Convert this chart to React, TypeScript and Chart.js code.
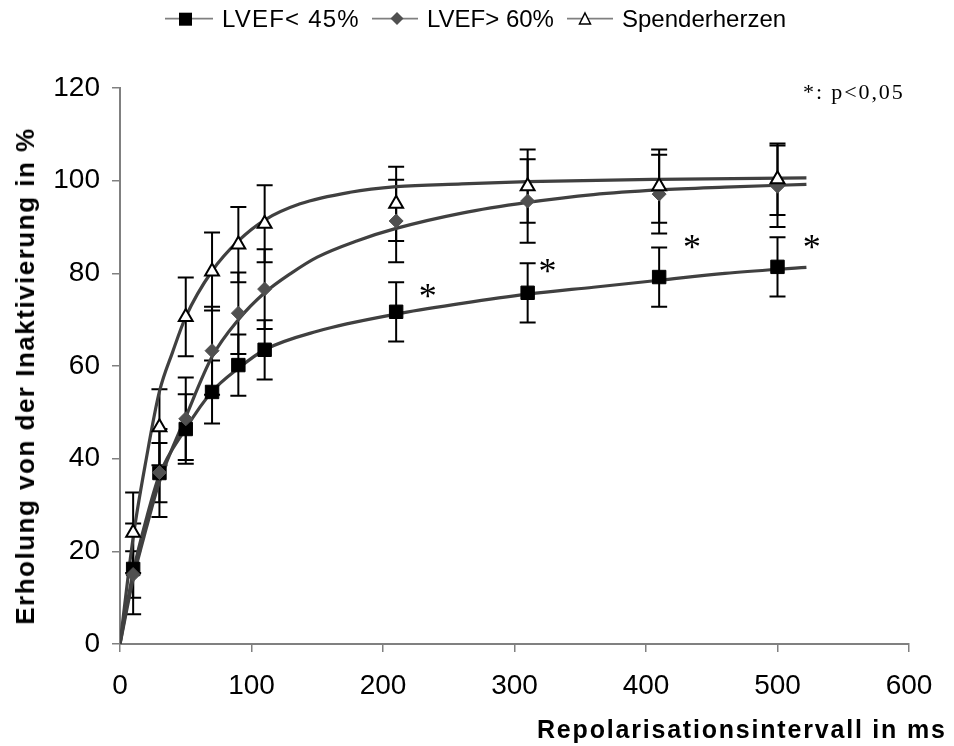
import React, { useEffect, useRef } from 'react';
import { Chart, registerables } from 'chart.js';

Chart.register(...registerables);

// ---- data ----
const intervals = [10, 30, 50, 70, 90, 110, 210, 310, 410, 500];

const lvefLowMean = [16.2, 36.9, 46.4, 54.4, 60.2, 63.5, 71.7, 75.8, 79.2, 81.4];
const lvefLowErr = [9.8, 9.5, 7.5, 6.8, 6.6, 6.4, 6.4, 6.4, 6.4, 6.4];

const lvefHighMean = [15, 37, 48.6, 63.3, 71.4, 76.6, 91.3, 95.6, 97.1, 98.8];
const lvefHighErr = [5, 6.4, 8.9, 9.5, 8.8, 8.6, 8.9, 9, 8.5, 8.8];

const donorMean = [24, 46.8, 70.6, 80.4, 86.2, 90.7, 95, 98.8, 98.8, 100.3];
const donorErr = [8.7, 8.2, 8.5, 8.4, 8.1, 8.3, 8, 7.9, 7.9, 7.7];

// fitted curves
const fitLowX = [0, 10, 20, 30, 50, 70, 90, 110, 150, 210, 260, 310, 360, 410, 460, 522];
const fitLowY = [0, 15.5, 27, 36.5, 46.5, 54.5, 59.5, 63.5, 67.5, 71.2, 73.5, 75.5, 77, 78.5, 80, 81.3];

const fitHighX = [0, 10, 20, 30, 50, 70, 90, 110, 130, 150, 180, 210, 260, 310, 360, 410, 460, 522];
const fitHighY = [0, 14, 25, 35, 49, 62, 70, 75.8, 80, 83.5, 87, 89.7, 93, 95.3, 97, 98, 98.6, 99.2];

const fitDonorX = [0, 10, 20, 30, 40, 50, 70, 90, 110, 137, 175, 210, 260, 310, 410, 522];
const fitDonorY = [0, 23, 40, 54.5, 63, 70.6, 80.5, 87, 91.5, 95, 97.5, 98.7, 99.3, 99.8, 100.3, 100.6];

// significance markers
const starX = [234, 325, 435, 526];
const starY = [76.8, 82.2, 87.4, 87.4];

const seriesLabels = ['LVEF< 45%', 'LVEF> 60%', 'Spenderherzen'];

const xMin = 0, xMax = 600, xStep = 100;
const yMin = 0, yMax = 120, yStep = 20;

const pts = (xs: number[], ys: number[]) => xs.map((x, i) => ({ x, y: ys[i] }));

const errorSets = [
  { mean: lvefLowMean, err: lvefLowErr },
  { mean: lvefHighMean, err: lvefHighErr },
  { mean: donorMean, err: donorErr },
];

const overlayPlugin = {
  id: 'overlay',
  beforeDatasetsDraw(chart: any) {
    const { ctx, scales } = chart;
    const x = scales.x, y = scales.y;
    ctx.save();
    ctx.strokeStyle = '#000';
    ctx.lineWidth = 2;
    errorSets.forEach((s) => {
      intervals.forEach((iv, j) => {
        const px = x.getPixelForValue(iv);
        const top = y.getPixelForValue(s.mean[j] + s.err[j]);
        const bot = y.getPixelForValue(s.mean[j] - s.err[j]);
        ctx.beginPath();
        ctx.moveTo(px, top);
        ctx.lineTo(px, bot);
        ctx.moveTo(px - 8, top);
        ctx.lineTo(px + 8, top);
        ctx.moveTo(px - 8, bot);
        ctx.lineTo(px + 8, bot);
        ctx.stroke();
      });
    });
    ctx.restore();
  },
  afterDatasetsDraw(chart: any) {
    const { ctx, scales } = chart;
    const x = scales.x, y = scales.y;
    ctx.save();
    ctx.fillStyle = '#000';
    ctx.font = "36px 'Liberation Serif', 'Times New Roman', serif";
    ctx.textAlign = 'center';
    ctx.textBaseline = 'alphabetic';
    starX.forEach((sx, i) => {
      ctx.fillText('*', x.getPixelForValue(sx), y.getPixelForValue(starY[i]) + 20);
    });
    ctx.restore();
  },
};

const sans = "'Liberation Sans', Arial, sans-serif";

export default function App() {
  const ref = useRef<HTMLCanvasElement>(null);

  useEffect(() => {
    const curve = (xs: number[], ys: number[], order: number) => ({
      type: 'line' as const,
      label: '',
      data: pts(xs, ys),
      showLine: true,
      borderColor: '#404040',
      borderWidth: 3.2,
      pointRadius: 0,
      cubicInterpolationMode: 'monotone' as const,
      order,
    });
    const chart = new Chart(ref.current!, {
      type: 'scatter',
      data: {
        datasets: [
          {
            label: seriesLabels[2],
            data: pts(intervals, donorMean),
            pointStyle: 'triangle',
            pointRadius: 8,
            pointBackgroundColor: '#ffffff',
            pointBorderColor: '#000000',
            pointBorderWidth: 2,
            showLine: false,
            order: 0,
          },
          {
            label: seriesLabels[1],
            data: pts(intervals, lvefHighMean),
            pointStyle: 'rectRot',
            pointRadius: 7,
            pointBackgroundColor: '#505050',
            pointBorderColor: '#505050',
            pointBorderWidth: 1,
            showLine: false,
            order: 1,
          },
          {
            label: seriesLabels[0],
            data: pts(intervals, lvefLowMean),
            pointStyle: 'rect',
            pointRadius: 9.5,
            pointBackgroundColor: '#000000',
            pointBorderColor: '#000000',
            pointBorderWidth: 1,
            showLine: false,
            order: 2,
          },
          curve(fitLowX, fitLowY, 3),
          curve(fitHighX, fitHighY, 4),
          curve(fitDonorX, fitDonorY, 5),
        ] as any,
      },
      options: {
        responsive: false,
        animation: false,
        devicePixelRatio: 1,
        layout: { padding: { top: 88, right: 45, bottom: 0, left: 0 } },
        plugins: {
          legend: { display: false },
          tooltip: { enabled: false },
          title: { display: false },
        },
        scales: {
          x: {
            type: 'linear',
            min: xMin,
            max: xMax,
            afterFit: (s: any) => { s.height = 102; },
            ticks: {
              stepSize: xStep,
              color: '#000',
              font: { family: sans, size: 28 },
              padding: 17,
              maxRotation: 0,
            },
            grid: { drawOnChartArea: false, drawTicks: true, tickLength: 8, color: '#808080', lineWidth: 1.5 },
            border: { color: '#808080', width: 2 },
          },
          y: {
            type: 'linear',
            min: yMin,
            max: yMax,
            afterFit: (s: any) => { s.width = 120; },
            ticks: {
              stepSize: yStep,
              color: '#000',
              font: { family: sans, size: 28 },
              padding: 12,
            },
            grid: { drawOnChartArea: false, drawTicks: true, tickLength: 8, color: '#808080', lineWidth: 1.5 },
            border: { color: '#808080', width: 2 },
          },
        },
      },
      plugins: [overlayPlugin],
    });
    return () => chart.destroy();
  }, []);

  const legendText: React.CSSProperties = {
    position: 'absolute',
    top: 6.7,
    fontFamily: sans,
    fontSize: 24,
    lineHeight: '24px',
    color: '#000',
    whiteSpace: 'nowrap',
  };

  return (
    <div style={{ position: 'absolute', left: 0, top: 0, width: 954, height: 746, background: '#fff', overflow: 'hidden' }}>
      <canvas ref={ref} width={954} height={746} style={{ position: 'absolute', left: 0, top: 0, width: 954, height: 746 }} />
      <svg width={954} height={40} style={{ position: 'absolute', left: 0, top: 0 }}>
        <line x1={165} y1={18.7} x2={213} y2={18.7} stroke="#808080" strokeWidth={1.8} />
        <rect x={179} y={12.7} width={13} height={13} fill="#000" />
        <line x1={372} y1={18.7} x2={418} y2={18.7} stroke="#808080" strokeWidth={1.8} />
        <polygon points="397,12 403.5,18.5 397,25 390.5,18.5" fill="#505050" />
        <line x1={567} y1={18.7} x2={613} y2={18.7} stroke="#808080" strokeWidth={1.8} />
        <polygon points="585,13 590.5,24 579.5,24" fill="#fff" stroke="#000" strokeWidth={1.5} />
      </svg>
      <div style={{ ...legendText, left: 222, letterSpacing: 1.2 }}>{seriesLabels[0]}</div>
      <div style={{ ...legendText, left: 427 }}>{seriesLabels[1]}</div>
      <div style={{ ...legendText, left: 622 }}>{seriesLabels[2]}</div>

      <div
        style={{
          position: 'absolute',
          left: 803,
          top: 80.5,
          fontFamily: "'Liberation Serif', 'Times New Roman', serif",
          fontSize: 22,
          lineHeight: '22px',
          letterSpacing: 1.9,
          whiteSpace: 'nowrap',
          color: '#000',
        }}
      >
        *: p&lt;0,05
      </div>

      <div
        style={{
          position: 'absolute',
          left: 25,
          top: 376,
          transform: 'translate(-50%, -50%) rotate(-90deg)',
          fontFamily: sans,
          fontWeight: 'bold',
          fontSize: 26,
          lineHeight: '26px',
          letterSpacing: 1.5,
          whiteSpace: 'nowrap',
          color: '#000',
        }}
      >
        Erholung von der Inaktivierung in %
      </div>

      <div
        style={{
          position: 'absolute',
          left: 537,
          top: 717,
          fontFamily: sans,
          fontWeight: 'bold',
          fontSize: 25,
          lineHeight: '25px',
          letterSpacing: 1.8,
          whiteSpace: 'nowrap',
          color: '#000',
        }}
      >
        Repolarisationsintervall in ms
      </div>
    </div>
  );
}
